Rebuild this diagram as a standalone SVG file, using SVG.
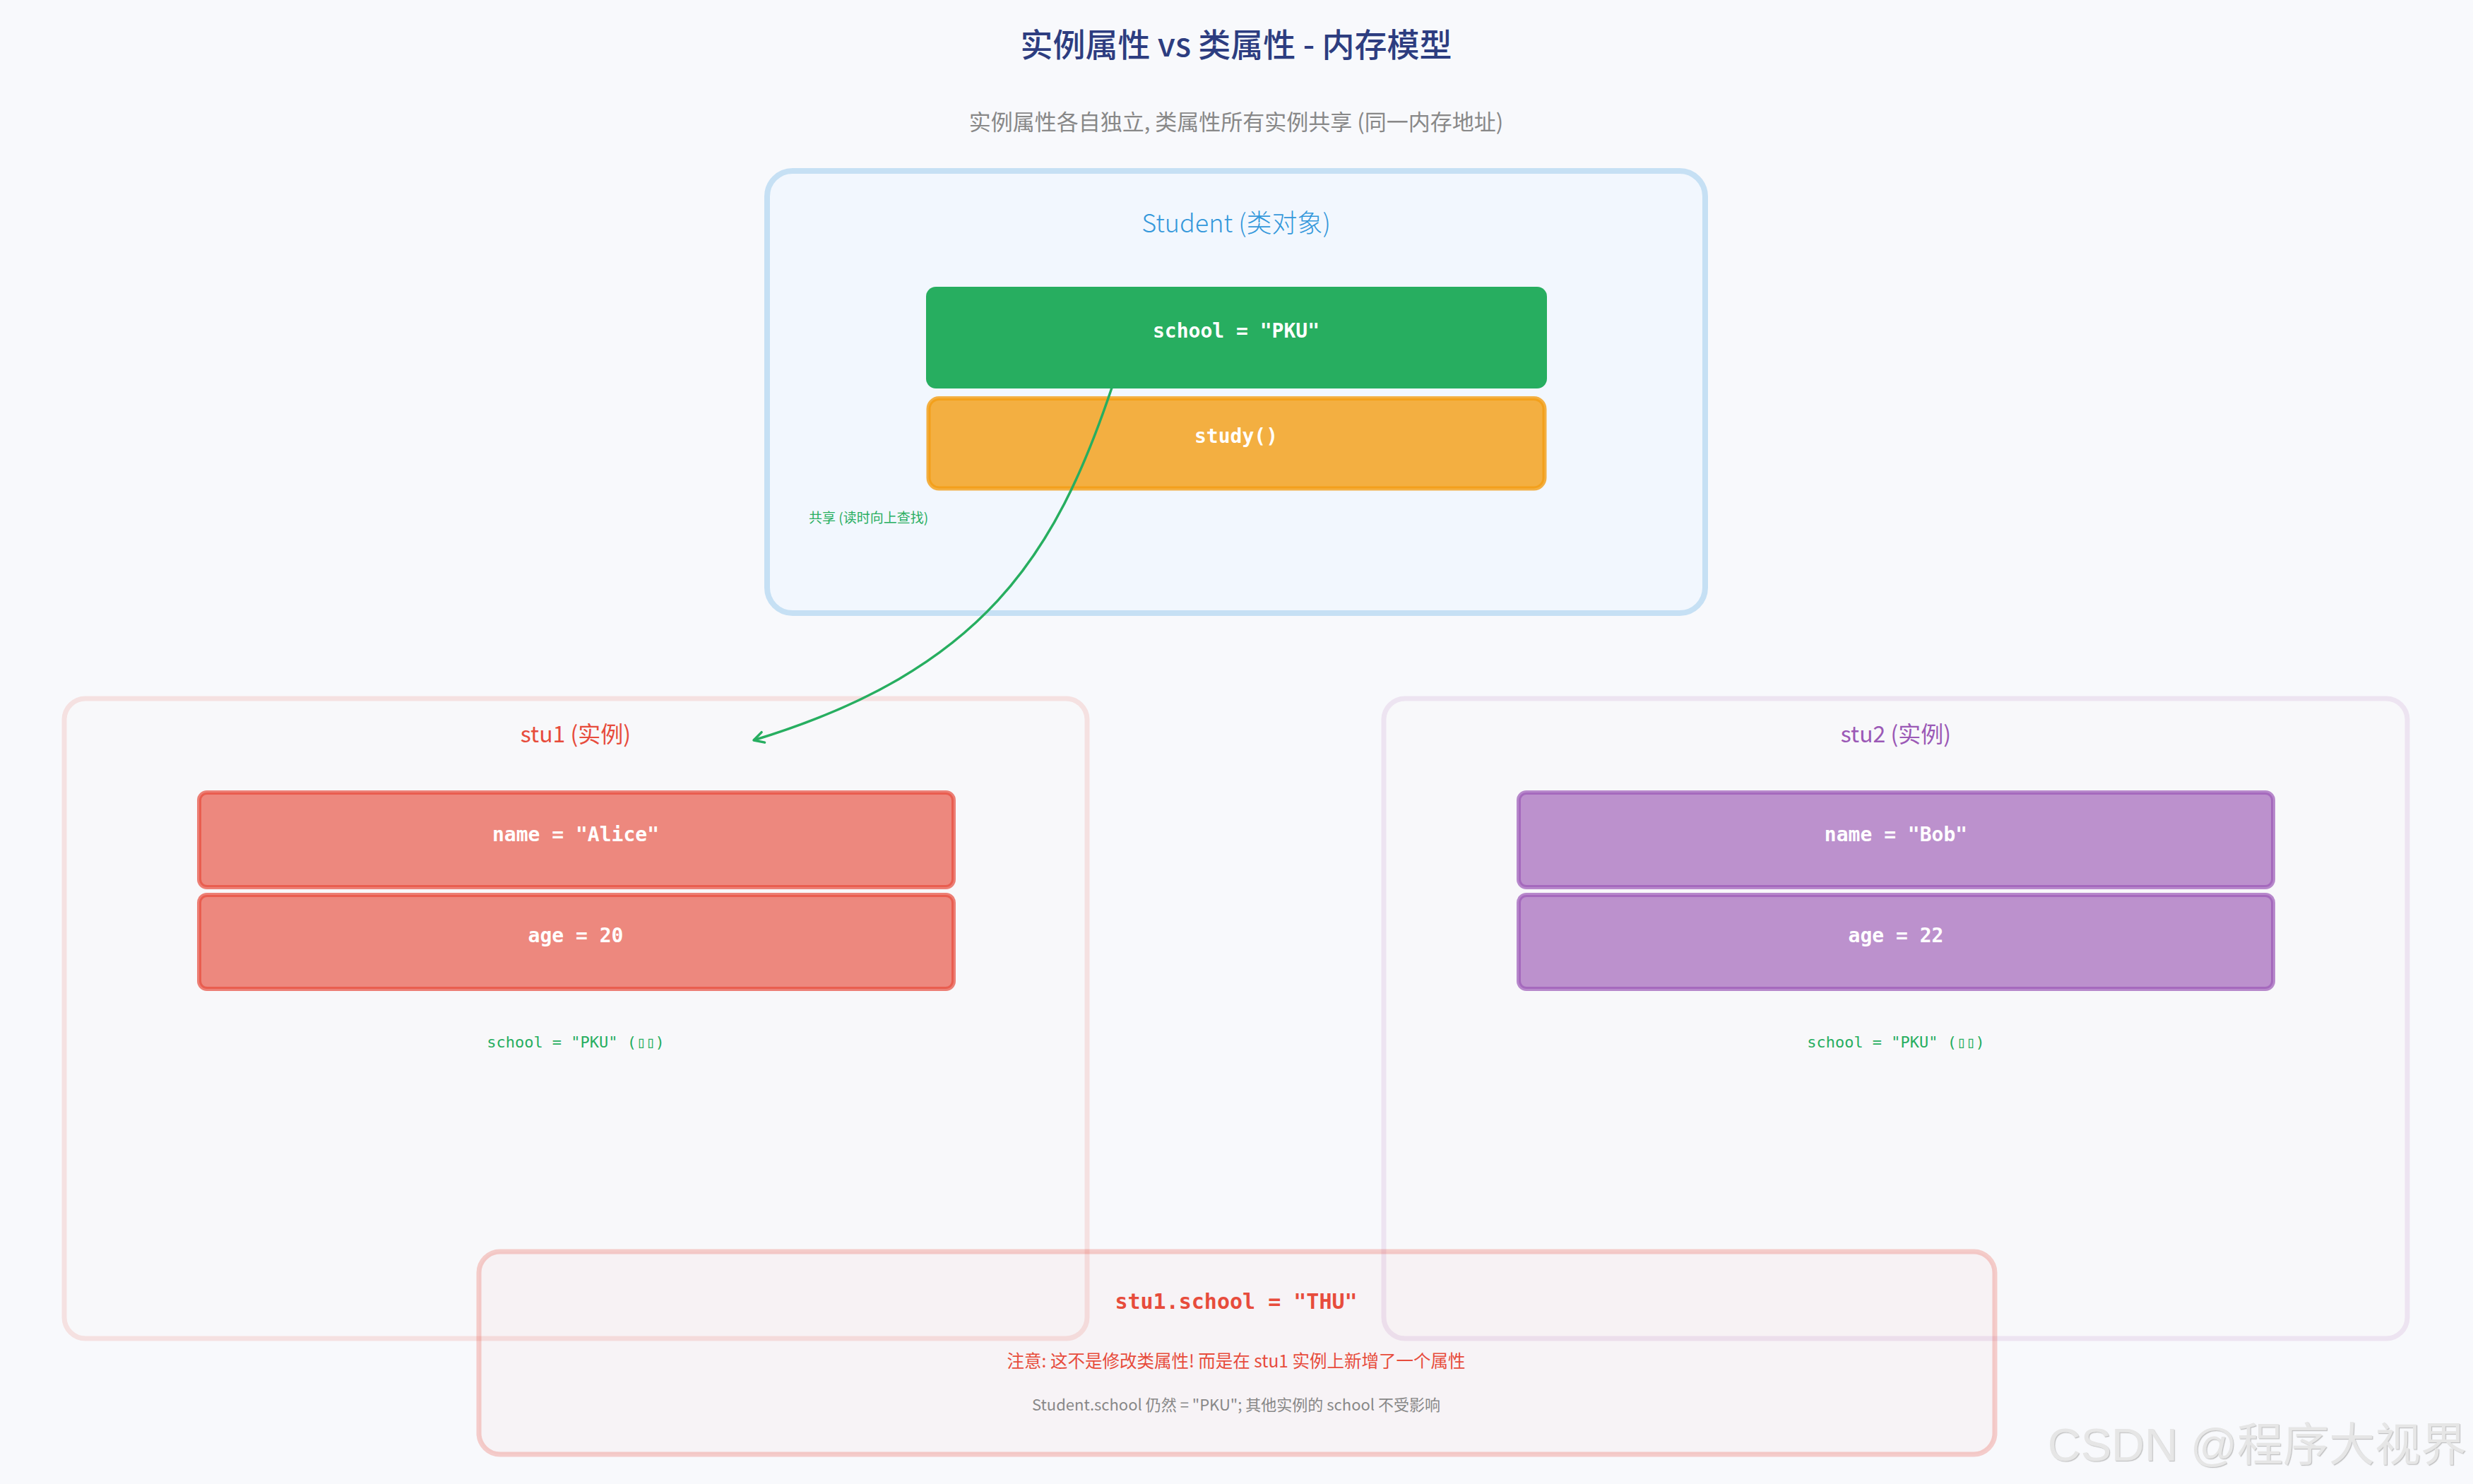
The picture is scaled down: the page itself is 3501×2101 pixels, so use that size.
<svg xmlns="http://www.w3.org/2000/svg" width="3501" height="2101" viewBox="0 0 3501 2101">
<defs>
<style>
.sans{font-family:"Noto Sans CJK SC","Noto Sans",sans-serif;}
.mono{font-family:"DejaVu Sans Mono","Liberation Mono",monospace;}
.c{text-anchor:middle;}
.box-t{font-family:"DejaVu Sans Mono","Liberation Mono",monospace;font-weight:bold;font-size:28px;fill:#ffffff;text-anchor:middle;}
.red{fill:#e74c3c;fill-opacity:0.65;stroke:#e74c3c;stroke-opacity:0.7;stroke-width:6;}
.pur{fill:#9b59b6;fill-opacity:0.65;stroke:#9b59b6;stroke-opacity:0.7;stroke-width:6;}
.inh{font-family:"DejaVu Sans Mono","Liberation Mono",monospace;font-size:22px;fill:#27ae60;text-anchor:middle;}
</style>
<marker id="arr" viewBox="0 0 10 10" refX="8.5" refY="5" markerWidth="20" markerHeight="20" markerUnits="userSpaceOnUse" orient="auto">
<path d="M1.5,1.2 L8.5,5 L1.5,8.8" fill="none" stroke="#27ae60" stroke-width="1.7" stroke-linecap="round" stroke-linejoin="round"/>
</marker>
<filter id="emb" x="-5%" y="-20%" width="110%" height="140%">
<feDropShadow dx="1.2" dy="1.2" stdDeviation="0.7" flood-color="#b5b5b5" flood-opacity="0.8"/>
</filter>
</defs>
<rect x="0" y="0" width="3501" height="2101" fill="#f8f9fc"/>

<g id="title">
<text x="1750" y="80" class="sans c" font-size="46" font-weight="500" fill="#2d3d80">实例属性 vs 类属性 - 内存模型</text>
<text x="1750" y="184" class="sans c" font-size="31" fill="#888888">实例属性各自独立, 类属性所有实例共享 (同一内存地址)</text>
</g>

<g id="student">
<rect x="1086" y="242" width="1328" height="626" rx="36" fill="#f2f7fe" stroke="#c6e0f4" stroke-width="8"/>
<text x="1750" y="329" class="sans c" font-size="36" font-weight="300" fill="#3498db">Student (类对象)</text>
</g>
<g id="student-school">
<rect x="1311" y="406" width="879" height="144" rx="14" fill="#27ae60"/>
<text x="1750" y="478" class="box-t">school = "PKU"</text>
</g>
<g id="student-study">
<rect x="1314.5" y="564" width="872" height="127.5" rx="15" fill="#f39c12" fill-opacity="0.8" stroke="#f39c12" stroke-opacity="0.8" stroke-width="6"/>
<text x="1750" y="627" class="box-t">study()</text>
</g>

<g id="stu1">
<rect x="91" y="989" width="1448" height="906" rx="30" fill="#f8f8fa" stroke="#f5e1e1" stroke-width="7"/>
<text x="815" y="1051" class="sans c" font-size="32" fill="#e74c3c">stu1 (实例)</text>
<text x="815" y="1483" class="inh">school = "PKU" (▯▯)</text>
</g>
<g id="stu1-name">
<rect x="282" y="1122" width="1068" height="134" rx="11" class="red"/>
<text x="815" y="1191" class="box-t">name = "Alice"</text>
</g>
<g id="stu1-age">
<rect x="282" y="1267" width="1068" height="133" rx="11" class="red"/>
<text x="815" y="1334" class="box-t">age = 20</text>
</g>

<g id="stu2">
<rect x="1959" y="989" width="1449" height="906" rx="30" fill="#f8f8fa" stroke="#ede4f1" stroke-width="7"/>
<text x="2684" y="1051" class="sans c" font-size="32" fill="#9b59b6">stu2 (实例)</text>
<text x="2684" y="1483" class="inh">school = "PKU" (▯▯)</text>
</g>
<g id="stu2-name">
<rect x="2150" y="1122" width="1068" height="134" rx="11" class="pur"/>
<text x="2684" y="1191" class="box-t">name = "Bob"</text>
</g>
<g id="stu2-age">
<rect x="2150" y="1267" width="1068" height="133" rx="11" class="pur"/>
<text x="2684" y="1334" class="box-t">age = 22</text>
</g>

<g id="connectors">
<path d="M1574,549 C1494,786.5 1392,949 1067,1048" fill="none" stroke="#27ae60" stroke-width="3.5" marker-end="url(#arr)"/>
<text x="1145" y="740" class="sans" font-size="19" fill="#27ae60">共享 (读时向上查找)</text>
</g>

<g id="note">
<rect x="678" y="1772" width="2146" height="287" rx="30" fill="#e74c3c" fill-opacity="0.03" stroke="#e74c3c" stroke-opacity="0.26" stroke-width="7"/>
<text x="1750" y="1853" class="mono c" font-size="30" font-weight="bold" fill="#e74c3c">stu1.school = "THU"</text>
<text x="1750" y="1936" class="sans c" font-size="24.5" fill="#e74c3c">注意: 这不是修改类属性! 而是在 stu1 实例上新增了一个属性</text>
<text x="1750" y="1997" class="sans c" font-size="22" fill="#888888">Student.school 仍然 = "PKU"; 其他实例的 school 不受影响</text>
</g>

<g id="watermark">
<text x="3492" y="2068" text-anchor="end" font-family="Liberation Sans, Noto Sans CJK SC, sans-serif" font-size="65" fill="#e6e6e6" filter="url(#emb)">CSDN @程序大视界</text>
</g>
</svg>
